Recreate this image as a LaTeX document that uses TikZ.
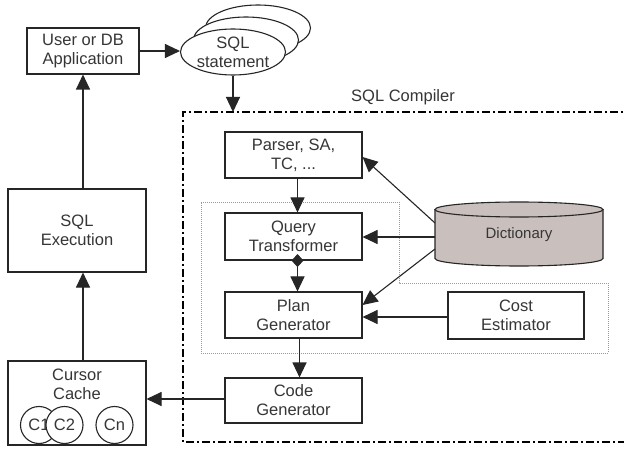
\documentclass[tikz,border=0pt]{standalone}
\usepackage{fontspec}
\setmainfont{Liberation Sans}
\usetikzlibrary{arrows.meta,shapes.geometric,calc}
\definecolor{ln}{HTML}{262626}
\definecolor{tx}{HTML}{363636}
\definecolor{cyl}{HTML}{C9BFBC}
\begin{document}
\begin{tikzpicture}[x=1pt,y=-1pt,
  every node/.style={font=\fontsize{16.5}{19}\selectfont, text=tx, align=center},
  box/.style={draw=ln, line width=1.1pt, fill=white, rectangle, inner sep=0pt},
  arr/.style={draw=ln, line width=1.1pt, -{Triangle[length=15pt 0,width=14pt 0]}},
  plain/.style={draw=ln, line width=1.1pt},
  dotbox/.style={draw=gray!80, line width=0.9pt, dash pattern=on 1pt off 1pt},
  dashdot/.style={draw=black, line width=1.4pt, dash pattern=on 8pt off 3pt on 2pt off 3pt},
  ell/.style={draw=ln, line width=1.1pt, fill=white, ellipse, minimum width=105pt, minimum height=46pt, inner sep=0pt},
  circ/.style={draw=ln, line width=1.1pt, fill=white, circle, minimum size=37pt, inner sep=0pt}]
\clip (0,0) rectangle (624,449);
\fill[white] (0,0) rectangle (624,449);

% SQL compiler frame
\draw[dashdot] (650,112) -- (183,112) -- (183,442) -- (650,442);
\node (complbl) at (403,97) {SQL Compiler};
\coordinate (ctop) at (233,112);

% dotted optimizer region
\draw[dotbox] (201,202) -- (399,202) -- (399,283) -- (608,283) -- (608,353) -- (201,353) -- cycle;

% left column
\node[box, minimum width=112pt, minimum height=46pt] (user) at (83,51) {User or DB\\Application};
\node[box, minimum width=138pt, minimum height=83pt] (exec) at (77,230.5) {SQL\\Execution};
\node[box, minimum width=138pt, minimum height=84pt] (cache) at (77,403) {};
\node (cachelbl) at (77,384) {Cursor\\Cache};
\node[circ] (c1) at (39,425) {C1};
\node[circ] (c2) at (64.5,425) {C2};
\node[circ] (cn) at (114.5,425) {Cn};

% SQL statement stack
\node[ell] (stmt3) at (258,28) {};
\node[ell] (stmt2) at (246,40) {};
\node[ell] (stmt) at (233,52) {SQL\\statement};

% compiler boxes
\node[box, minimum width=137pt, minimum height=46pt] (parser) at (293.5,155) {Parser, SA,\\TC, ...};
\node[box, minimum width=137pt, minimum height=47pt] (qt) at (293.5,236.5) {Query\\Transformer};
\node[box, minimum width=137pt, minimum height=46pt] (pg) at (293.5,315) {Plan\\Generator};
\node[box, minimum width=137pt, minimum height=45pt] (cg) at (293.5,400.5) {Code\\Generator};
\node[box, minimum width=136pt, minimum height=47pt] (cost) at (516,315.5) {Cost\\Estimator};

% dictionary cylinder
\fill[cyl] (435,209.5) -- (435,258.5) arc[start angle=180, end angle=360, x radius=84pt, y radius=7.5pt]
  -- (603,209.5) arc[start angle=0, end angle=180, x radius=84pt, y radius=7.5pt] -- cycle;
\draw[plain] (435,209.5) -- (435,258.5) arc[start angle=180, end angle=360, x radius=84pt, y radius=7.5pt] -- (603,209.5);
\draw[plain] (519,209.5) ellipse[x radius=84pt, y radius=7.5pt];
\node[font=\fontsize{15}{17}\selectfont] (dict) at (519,235) {Dictionary};
\coordinate (d1) at (435,223);
\coordinate (d2) at (435,237);
\coordinate (d3) at (435,249);

% connectors
\draw[arr] (user.east) -- (user.east -| stmt.west);
\draw[arr] (stmt.south) -- (stmt.south |- ctop);
\draw[arr] ([xshift=4pt]parser.south) -- ([xshift=4pt]qt.north);
\draw[draw=ln, line width=1.1pt, {Diamond[length=13pt 0,width=12pt 0]}-{Triangle[length=15pt 0,width=14pt 0]}] ([xshift=4pt,yshift=6.5pt]qt.south) -- ([xshift=4pt]pg.north);
\draw[arr] ([xshift=6pt]pg.south) -- ([xshift=6pt]cg.north);
\draw[arr] (cg.west |- 0,399) -- (cache.east |- 0,399);
\draw[arr] ([xshift=6pt]cache.north) -- ([xshift=6pt]exec.south);
\draw[arr] ([xshift=6pt]exec.north) -- (user.south);
\draw[arr] (d1) -- ([yshift=-2pt]parser.east);
\draw[arr] (d2) -- (d2 -| qt.east);
\draw[arr] (d3) -- ([yshift=10pt]pg.east);
\draw[arr] (cost.west |- 0,317) -- (pg.east |- 0,317);
\end{tikzpicture}
\end{document}
